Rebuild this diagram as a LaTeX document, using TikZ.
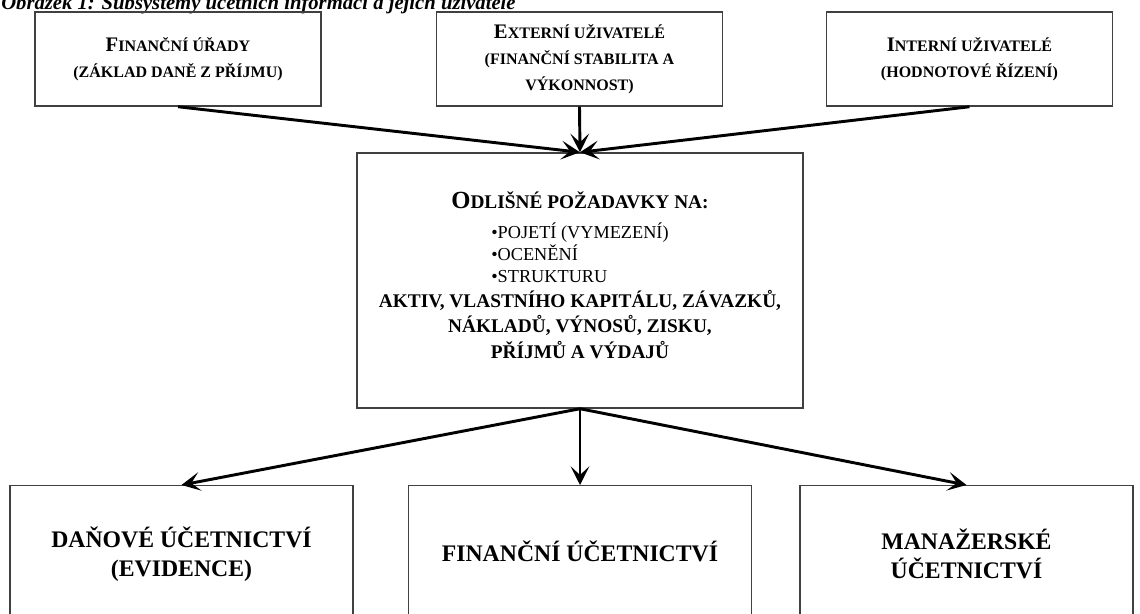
\documentclass[tikz,border=0pt]{standalone}
\usepackage{fontspec}
\setmainfont{Liberation Serif}
\usetikzlibrary{arrows.meta}
\newcommand\BigT[1]{{\fontsize{15.5}{19}\selectfont #1}}
\newcommand\BigM[1]{{\fontsize{18.5}{19}\selectfont #1}}
\tikzset{
  box/.style={draw=black!75, line width=1.1pt, inner sep=0pt, align=center, text=black},
  topbox/.style={box, minimum width=286*0.75pt, minimum height=94*0.75pt,
    font=\fontsize{12}{19.5}\selectfont\bfseries},
  botbox/.style={box, anchor=north, font=\fontsize{17.8}{21.5}\selectfont\bfseries},
  conn/.style={line width=2.2pt, -{Stealth[length=14pt, width=14pt, inset=6.5pt]}}
}
\begin{document}
\begin{tikzpicture}[x=0.75pt, y=-0.75pt]
\useasboundingbox (0,0) rectangle (1140,614);
\node[anchor=base west, inner sep=0pt, font=\fontsize{15.5}{17}\selectfont\bfseries\itshape] (cap) at (1,10)
  {Obrázek 1: Subsystémy účetních informací a jejich uživatelé};

\node[topbox] (T1) at (178,59) {\BigT{F}INANČNÍ ÚŘADY\\(ZÁKLAD DANĚ Z PŘÍJMU)};
\node[topbox] (T2) at (579.5,59) {\BigT{E}XTERNÍ UŽIVATELÉ\\(FINANČNÍ STABILITA A\\VÝKONNOST)};
\node[topbox] (T3) at (969.5,59) {\BigT{I}NTERNÍ UŽIVATELÉ\\(HODNOTOVÉ ŘÍZENÍ)};

\node[box, minimum width=446*0.75pt, minimum height=255*0.75pt,
  font=\fontsize{14.5}{19}\selectfont\bfseries] (M) at (580,280.5)
  {\BigM{O}DLIŠNÉ POŽADAVKY NA:\\[9pt]
   {\mdseries\fontsize{13.7}{16.5}\selectfont\begin{tabular}{@{}l@{}}•POJETÍ (VYMEZENÍ)\\•OCENĚNÍ\\•STRUKTURU\end{tabular}}\\
   AKTIV, VLASTNÍHO KAPITÁLU, ZÁVAZKŮ,\\
   NÁKLADŮ, VÝNOSŮ, ZISKU,\\
   PŘÍJMŮ A VÝDAJŮ\rule[-8pt]{0pt}{0pt}};

\node[botbox, minimum width=343*0.75pt, minimum height=137*0.75pt] (B1) at (181.5,485) {DAŇOVÉ ÚČETNICTVÍ\\(EVIDENCE)};
\node[botbox, minimum width=343*0.75pt, minimum height=132*0.75pt] (B2) at (580,485) {FINANČNÍ ÚČETNICTVÍ};
\node[botbox, minimum width=333*0.75pt, minimum height=136*0.75pt] (B3) at (966.5,485) {MANAŽERSKÉ\\ÚČETNICTVÍ};

\draw[conn] (T1.south) -- (M.north);
\draw[conn] (T2.south) -- (M.north);
\draw[conn] (T3.south) -- (M.north);
\draw[conn] (M.south) -- (B1.north);
\draw[conn] (M.south) -- (B2.north);
\draw[conn] (M.south) -- (B3.north);
\end{tikzpicture}
\end{document}
